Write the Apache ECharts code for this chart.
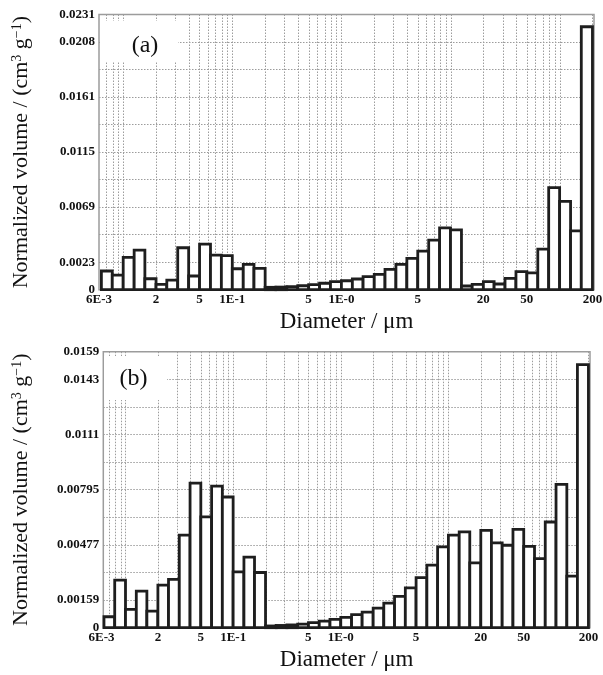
<!DOCTYPE html>
<html>
<head>
<meta charset="utf-8">
<script src="https://cdn.jsdelivr.net/npm/echarts@6/dist/echarts.min.js"></script>
<style>
html, body { margin: 0; padding: 0; background: #fff; }
#chart { width: 603px; height: 675px; }
</style>
</head>
<body>
<div id="chart"></div>
<script>
// bin edges in um (10 bins per decade)
var binEdges = [0.00631, 0.00794, 0.01, 0.0126, 0.0158, 0.02, 0.0251, 0.0316, 0.0398, 0.0501,
  0.0631, 0.0794, 0.1, 0.126, 0.158, 0.2, 0.251, 0.316, 0.398, 0.501,
  0.631, 0.794, 1, 1.26, 1.58, 2, 2.51, 3.16, 3.98, 5.01,
  6.31, 7.94, 10, 12.6, 15.8, 20, 25.1, 31.6, 39.8, 50.1,
  63.1, 79.4, 100, 126, 158, 200];

// normalized volume per bin, panel (a)
var volA = [0.00157, 0.00123, 0.00271, 0.00332, 0.00092, 0.00045, 0.00081, 0.00352, 0.00115, 0.00382,
  0.0029, 0.00286, 0.00176, 0.00212, 0.00179,
  0.0002, 0.00022, 0.00025, 0.00033, 0.00042, 0.00054, 0.00067, 0.00075, 0.0009, 0.00109,
  0.00129, 0.00171, 0.00213, 0.00263, 0.00324, 0.00416, 0.00519, 0.00503,
  0.00031, 0.00045, 0.00067, 0.00048, 0.00095, 0.00151, 0.00142, 0.00341, 0.00857, 0.00742,
  0.00494, 0.02207];

// normalized volume per bin, panel (b)
var volB = [0.00063, 0.00274, 0.00106, 0.00211, 0.00096, 0.00245, 0.00278, 0.00533, 0.00833, 0.00638,
  0.00816, 0.00753, 0.00322, 0.00406, 0.00318,
  0.0001, 0.00013, 0.00016, 0.00021, 0.00029, 0.00038, 0.00048, 0.00059, 0.00075, 0.0009,
  0.00113, 0.00142, 0.0018, 0.00229, 0.00288, 0.00361, 0.00466, 0.00533,
  0.00552, 0.00374, 0.00561, 0.00489, 0.00475, 0.00567, 0.00469, 0.00398, 0.00609, 0.00826,
  0.00297, 0.01515];

// dotted vertical grid lines
var gridDiameters = [0.007, 0.008, 0.009, 0.01, 0.02, 0.03, 0.04, 0.05, 0.06, 0.07, 0.08, 0.09,
  0.1, 0.2, 0.3, 0.4, 0.5, 0.6, 0.7, 0.8, 0.9, 1, 2, 3, 4, 5, 6, 7, 8, 9,
  10, 20, 30, 40, 50, 60, 70, 80, 90, 100, 200];

var xTickValues = [0.006, 0.02, 0.05, 0.1, 0.5, 1, 5, 20, 50, 200];
var xTickLabels = ['6E-3', '2', '5', '1E-1', '5', '1E-0', '5', '20', '50', '200'];

var yMaxA = 0.0231;
var yMaxB = 0.0159;
var yTickLabelsA = ['0', '0.0023', '', '0.0069', '', '0.0115', '', '0.0161', '', '0.0208', '0.0231'];
var yTickLabelsB = ['0', '0.00159', '', '0.00477', '', '0.00795', '', '0.0111', '', '0.0143', '0.0159'];

var serif = '"Liberation Serif", "Times New Roman", serif';
var gridColor = '#9c9c9c';

function binData(vals) {
  var out = [];
  for (var i = 0; i < vals.length; i++) {
    out.push([binEdges[i], binEdges[i + 1], vals[i]]);
  }
  return out;
}

function barItem(params, api) {
  var p0 = api.coord([api.value(0), 0]);
  var p1 = api.coord([api.value(1), api.value(2)]);
  return {
    type: 'rect',
    shape: { x: p0[0], y: p1[1], width: p1[0] - p0[0], height: p0[1] - p1[1] },
    style: { fill: '#fff', stroke: '#1e1e1e', lineWidth: 2.8 }
  };
}

function vLineItem(params, api) {
  var cs = params.coordSys;
  var x = Math.round(api.coord([api.value(0), 0])[0]) + 0.5;
  return {
    type: 'line',
    shape: { x1: x, y1: cs.y, x2: x, y2: cs.y + cs.height },
    style: { stroke: gridColor, lineWidth: 1, lineDash: [1.5, 1.5] }
  };
}

function tickLabelItem(params, api) {
  var p = api.coord([api.value(0), 0]);
  return {
    type: 'text',
    x: p[0],
    y: p[1] + 3,
    style: {
      text: xTickLabels[params.dataIndex],
      align: 'center',
      verticalAlign: 'top',
      fontFamily: serif,
      fontWeight: 'bold',
      fontSize: 13,
      fill: '#111'
    }
  };
}

function makeY(idx, yMax, labels, gap) {
  var step = yMax / 10;
  return {
    type: 'value',
    gridIndex: idx,
    min: 0,
    max: yMax,
    interval: step,
    axisLine: { show: false },
    axisTick: { show: false },
    splitLine: { show: true, lineStyle: { color: gridColor, width: 1, type: [1.5, 1.5] } },
    axisLabel: {
      margin: 4,
      fontFamily: serif,
      fontWeight: 'bold',
      fontSize: 13,
      color: '#111',
      formatter: function (v) {
        return labels[Math.round(v / step)] || '';
      }
    },
    name: 'Normalized volume / (cm{sup|3} g{sup|\u22121})',
    nameLocation: 'middle',
    nameGap: gap,
    nameMoveOverlap: false,
    nameTextStyle: {
      fontFamily: serif,
      fontSize: 22,
      color: '#111',
      rich: {
        sup: { fontFamily: serif, fontSize: 14, color: '#111', verticalAlign: 'top' }
      }
    }
  };
}

function makeX(idx, min, max) {
  return {
    type: 'log',
    logBase: 10,
    gridIndex: idx,
    min: min,
    max: max,
    axisLine: { show: false },
    axisTick: { show: false },
    axisLabel: { show: false },
    splitLine: { show: false },
    minorTick: { show: false },
    minorSplitLine: { show: false },
    name: 'Diameter / \u03bcm',
    nameLocation: 'middle',
    nameGap: 21,
    nameTextStyle: { fontFamily: serif, fontSize: 23, color: '#111' }
  };
}

var chart = echarts.init(document.getElementById('chart'), null, { renderer: 'canvas' });

var series = [];
[volA, volB].forEach(function (vals, g) {
  series.push({
    type: 'custom',
    xAxisIndex: g,
    yAxisIndex: g,
    z: 1,
    silent: true,
    renderItem: vLineItem,
    encode: { x: 0, y: 1 },
    data: gridDiameters.map(function (d) { return [d, 0]; })
  });
  series.push({
    type: 'custom',
    xAxisIndex: g,
    yAxisIndex: g,
    z: 3,
    renderItem: barItem,
    encode: { x: [0, 1], y: 2 },
    data: binData(vals)
  });
  series.push({
    type: 'custom',
    xAxisIndex: g,
    yAxisIndex: g,
    z: 3,
    silent: true,
    renderItem: tickLabelItem,
    encode: { x: 0, y: 1 },
    data: xTickValues.map(function (d) { return [d, 0]; })
  });
});

var option = {
  backgroundColor: '#fff',
  animation: false,
  grid: [
    { left: 99, top: 14.5, width: 495, height: 275.2, show: true, borderColor: gridColor, borderWidth: 1.5,
      containLabel: false, outerBoundsMode: 'none' },
    { left: 103.3, top: 351.7, width: 486.7, height: 276, show: true, borderColor: gridColor, borderWidth: 1.5,
      containLabel: false, outerBoundsMode: 'none' }
  ],
  xAxis: [makeX(0, 0.006, 206.6), makeX(1, 0.00622, 206.8)],
  yAxis: [makeY(0, yMaxA, yTickLabelsA, 67), makeY(1, yMaxB, yTickLabelsB, 71)],
  graphic: [
    { type: 'rect', z: 10, shape: { x: 100, y: 21, width: 78, height: 40 }, style: { fill: '#fff' } },
    { type: 'text', z: 11, x: 145, y: 46,
      style: { text: '(a)', fontFamily: serif, fontSize: 24, fill: '#111', align: 'center', verticalAlign: 'middle' } },
    { type: 'rect', z: 10, shape: { x: 104, y: 356, width: 63, height: 44 }, style: { fill: '#fff' } },
    { type: 'text', z: 11, x: 133.5, y: 379,
      style: { text: '(b)', fontFamily: serif, fontSize: 24, fill: '#111', align: 'center', verticalAlign: 'middle' } }
  ],
  series: series
};

chart.setOption(option);
</script>
</body>
</html>
